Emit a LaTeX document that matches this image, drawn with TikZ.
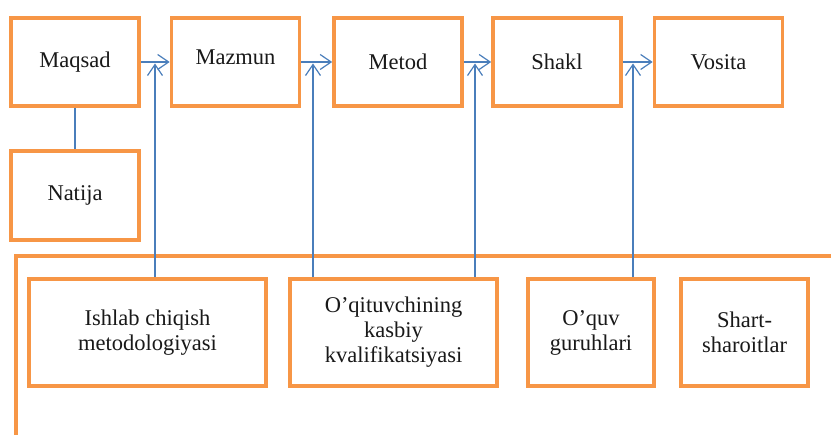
\documentclass[tikz,border=0pt]{standalone}
\usepackage{xcolor}
\usepackage{fontspec}
\setmainfont{Liberation Serif}
\usepackage{tikz}
\usetikzlibrary{arrows.meta, positioning}

\definecolor{qizil}{HTML}{F79646}
\definecolor{kok}{HTML}{4A7EBB}

\tikzset{
  blok/.style={draw=qizil, line width=3.6pt, fill=white, align=center, inner sep=0pt,
    text=black!90, font=\fontsize{22.5}{25}\selectfont},
  strelka/.style={-{Straight Barb[length=11pt, width=15pt, line width=1.2pt]}, kok, line width=1.4pt},
  chiziq/.style={kok, line width=1.4pt}
}

\begin{document}
\begin{tikzpicture}[x=1pt, y=-1pt]
      \useasboundingbox (0,0) rectangle (831,435);
      % yuqori qator
      \node[blok, minimum width=128pt, minimum height=88pt] (maqsad) at (75,62) {Maqsad};
      \node[blok, minimum width=128pt, minimum height=88pt] (mazmun) at (235.5,62) {\raisebox{10pt}{Mazmun}};
      \node[blok, minimum width=128pt, minimum height=88pt] (metod) at (398,62) {Metod};
      \node[blok, minimum width=128pt, minimum height=88pt] (shakl) at (557,62) {Shakl};
      \node[blok, minimum width=128pt, minimum height=88pt] (vosita) at (718.5,62) {Vosita};
      \node[blok, minimum width=128pt, minimum height=89pt] (natija) at (75,195.5) {Natija};
      % pastki qator
      \node[blok, minimum width=237pt, minimum height=107pt] (ishlab) at (147.5,332.5) {Ishlab chiqish\\metodologiyasi};
      \node[blok, minimum width=207pt, minimum height=107pt] (oqituvchi) at (393.5,332.5) {O’qituvchining\\kasbiy\\kvalifikatsiyasi};
      \node[blok, minimum width=126pt, minimum height=107pt] (oquv) at (591,332.5) {O’quv\\guruhlari};
      \node[blok, minimum width=127pt, minimum height=107pt] (shart) at (744.5,332.5) {Shart-\\sharoitlar};
      % ramka
      \draw[qizil, line width=3.6pt] (840,256) -- (16,256) -- (16,445);
      % strelkalar
      \coordinate (v1) at (155,63.5);
      \coordinate (v2) at (313,63.5);
      \coordinate (v3) at (475,63.5);
      \coordinate (v4) at (633,63.5);
      \draw[strelka] (maqsad) -- (mazmun);
      \draw[strelka] (mazmun) -- (metod);
      \draw[strelka] (metod) -- (shakl);
      \draw[strelka] (shakl) -- (vosita);
      \draw[strelka] (ishlab.north -| v1) -- (v1);
      \draw[strelka] (oqituvchi.north -| v2) -- (v2);
      \draw[strelka] (oqituvchi.north -| v3) -- (v3);
      \draw[strelka] (oquv.north -| v4) -- (v4);
      \draw[chiziq] (maqsad) -- (natija);
    \end{tikzpicture}
\end{document}
